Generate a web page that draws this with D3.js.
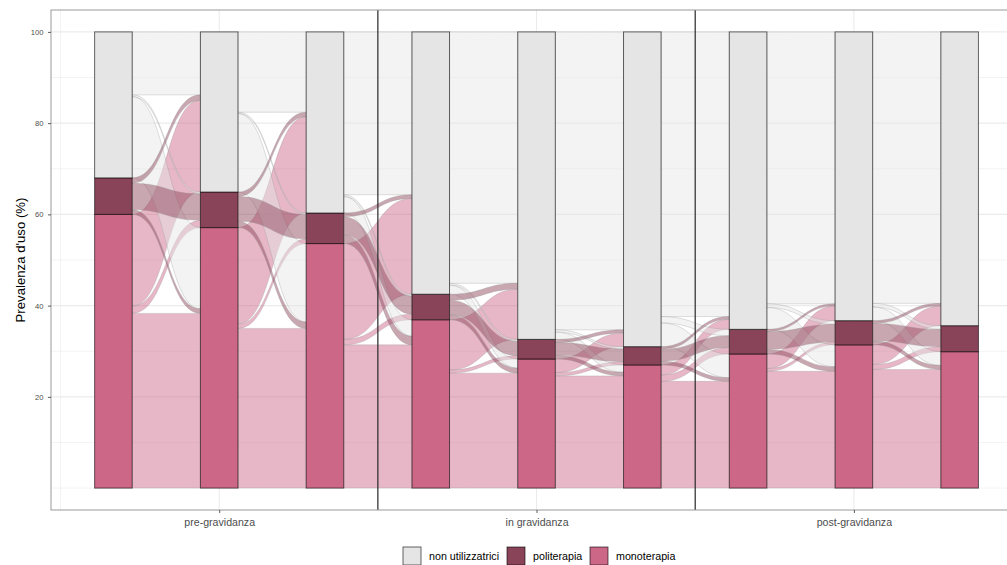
<!DOCTYPE html>
<html>
<head>
<meta charset="utf-8">
<script src="https://cdn.jsdelivr.net/npm/d3@7"></script>
<style>
  html, body { margin: 0; padding: 0; background: #ffffff; }
  svg { display: block; font-family: "Liberation Sans", Arial, Helvetica, sans-serif; }
</style>
</head>
<body>
<svg id="chart" width="1007" height="565"></svg>
<script>
// Periodi (asse x) e strati
const fasi = ["pre-gravidanza", "in gravidanza", "post-gravidanza"];
const strati = ["non utilizzatrici", "politerapia", "monoterapia"];

// Prevalenza d'uso (%) per ciascuno dei 9 momenti (3 per periodo)
const monoterapia      = [60.0, 57.1, 53.6, 36.9, 28.3, 27.0, 29.4, 31.4, 29.9];
const politerapia      = [ 8.0,  7.8,  6.7,  5.6,  4.3,  4.0,  5.4,  5.3,  5.7];
const nonUtilizzatrici = [32.0, 35.1, 39.7, 57.5, 67.4, 69.0, 65.2, 63.3, 64.4];

// Tick dell'asse y
const yTicks = [20, 40, 60, 80, 100];

// Transizioni tra momenti consecutivi (%):
// righe = stato di partenza [non, poli, mono], colonne = stato di arrivo [non, poli, mono]
const transizioni = [
  [[13.8, 0.4, 17.8], [ 1.2, 5.8, 1.0], [20.1, 1.6, 38.3]],
  [[17.6, 0.3, 17.2], [ 1.0, 5.4, 1.4], [21.1, 1.0, 35.0]],
  [[35.7, 0.4,  3.6], [ 0.8, 4.0, 1.9], [21.0, 1.2, 31.4]],
  [[55.1, 0.4,  2.0], [ 1.3, 3.2, 1.1], [11.0, 0.7, 25.2]],
  [[65.3, 0.5,  1.6], [ 0.7, 2.8, 0.8], [ 3.0, 0.7, 24.6]],
  [[62.4, 1.4,  5.2], [ 0.6, 2.6, 0.8], [ 2.2, 1.4, 23.4]],
  [[59.6, 0.8,  4.8], [ 0.5, 3.9, 1.0], [ 3.2, 0.6, 25.6]],
  [[59.5, 0.8,  3.0], [ 0.6, 3.8, 0.9], [ 4.3, 1.1, 26.0]]
];

const colori = {
  "non utilizzatrici": "#E5E5E5",
  "politerapia": "#8A4459",
  "monoterapia": "#CC6787"
};

const svg = d3.select("#chart");
const panel = { left: 51, top: 10, right: 1021, bottom: 510 };

const x = d3.scaleLinear().domain([-0.59, 8.58]).range([panel.left, panel.right]);
const y = d3.scaleLinear().domain([-4.8, 104.8]).range([panel.bottom, panel.top]);
const bw = x(0.355) - x(0);

// Tabella per lo stack (monoterapia in basso, non utilizzatrici in alto)
const tabella = monoterapia.map((m, i) => ({
  idx: i,
  "monoterapia": m,
  "politerapia": politerapia[i],
  "non utilizzatrici": nonUtilizzatrici[i]
}));
const stack = d3.stack().keys(["monoterapia", "politerapia", "non utilizzatrici"]);
const serie = stack(tabella);
// intervallo [basso, alto] di ogni strato per ogni momento
const intervallo = {};
serie.forEach(s => { intervallo[s.key] = s.map(d => [d[0], d[1]]); });

svg.append("defs").append("clipPath").attr("id", "clipPanel")
  .append("rect")
  .attr("x", panel.left).attr("y", panel.top)
  .attr("width", panel.right - panel.left).attr("height", panel.bottom - panel.top);

// Sfondo del pannello
svg.append("rect")
  .attr("x", panel.left).attr("y", panel.top)
  .attr("width", panel.right - panel.left).attr("height", panel.bottom - panel.top)
  .attr("fill", "#ffffff");

// Griglia
const grid = svg.append("g").attr("clip-path", "url(#clipPanel)");
const yMinor = [0, 10, 30, 50, 70, 90];
const xMinor = [-0.5, 2.5, 5.5, 8.5];
const xMajor = [1, 4, 7];
grid.selectAll(".ymin").data(yMinor).enter().append("line")
  .attr("x1", panel.left).attr("x2", panel.right)
  .attr("y1", d => y(d)).attr("y2", d => y(d))
  .attr("stroke", "#ebebeb").attr("stroke-width", 0.6);
grid.selectAll(".ymaj").data(yTicks).enter().append("line")
  .attr("x1", panel.left).attr("x2", panel.right)
  .attr("y1", d => y(d)).attr("y2", d => y(d))
  .attr("stroke", "#ebebeb").attr("stroke-width", 1.1);
grid.selectAll(".xmin").data(xMinor).enter().append("line")
  .attr("y1", panel.top).attr("y2", panel.bottom)
  .attr("x1", d => x(d)).attr("x2", d => x(d))
  .attr("stroke", "#ebebeb").attr("stroke-width", 0.6);
grid.selectAll(".xmaj").data(xMajor).enter().append("line")
  .attr("y1", panel.top).attr("y2", panel.bottom)
  .attr("x1", d => x(d)).attr("x2", d => x(d))
  .attr("stroke", "#ebebeb").attr("stroke-width", 1.1);

// Flussi (alluvial)
const ordine = ["non utilizzatrici", "politerapia", "monoterapia"]; // dall'alto verso il basso
const flussi = [];
transizioni.forEach((mat, k) => {
  // posizione di uscita: dall'alto dello strato di partenza
  const uscita = {};
  ordine.forEach((s, si) => {
    let top = intervallo[s][k][1];
    ordine.forEach((t, ti) => {
      const v = mat[si][ti];
      uscita[s + "|" + t] = [top - v, top];
      top -= v;
    });
  });
  // posizione di arrivo: dall'alto dello strato di arrivo
  const arrivo = {};
  ordine.forEach((t, ti) => {
    let top = intervallo[t][k + 1][1];
    ordine.forEach((s, si) => {
      const v = mat[si][ti];
      arrivo[s + "|" + t] = [top - v, top];
      top -= v;
    });
  });
  ordine.forEach((s, si) => {
    ordine.forEach((t, ti) => {
      const v = mat[si][ti];
      if (v <= 0) return;
      flussi.push({ k, da: s, a: t, v, u: uscita[s + "|" + t], r: arrivo[s + "|" + t] });
    });
  });
});

function pathFlusso(f) {
  const x0 = x(f.k) + bw / 2, x1 = x(f.k + 1) - bw / 2;
  const xm = (x0 + x1) / 2;
  const yt0 = y(f.u[1]), yb0 = y(f.u[0]);
  const yt1 = y(f.r[1]), yb1 = y(f.r[0]);
  return `M${x0},${yt0} C${xm},${yt0} ${xm},${yt1} ${x1},${yt1}` +
         ` L${x1},${yb1} C${xm},${yb1} ${xm},${yb0} ${x0},${yb0} Z`;
}

const gFlussi = svg.append("g").attr("clip-path", "url(#clipPanel)");
const ordineDisegno = ["monoterapia", "non utilizzatrici", "politerapia"];
flussi.sort((a, b) => ordineDisegno.indexOf(a.da) - ordineDisegno.indexOf(b.da));
gFlussi.selectAll("path").data(flussi).enter().append("path")
  .attr("d", pathFlusso)
  .attr("fill", d => colori[d.da])
  .attr("fill-opacity", 0.47)
  .attr("stroke", "#9a9a9a")
  .attr("stroke-opacity", 0.4)
  .attr("stroke-width", 0.8);

// Strati (barre)
const gBarre = svg.append("g");
serie.forEach(s => {
  gBarre.selectAll(null).data(s).enter().append("rect")
    .attr("x", d => x(d.data.idx) - bw / 2)
    .attr("width", bw)
    .attr("y", d => y(d[1]))
    .attr("height", d => y(d[0]) - y(d[1]))
    .attr("fill", colori[s.key])
    .attr("stroke", "rgba(0,0,0,0.6)")
    .attr("stroke-width", 1);
});

// Separatori tra i periodi
svg.append("g").selectAll("line").data([2.5, 5.5]).enter().append("line")
  .attr("x1", d => x(d)).attr("x2", d => x(d))
  .attr("y1", panel.top).attr("y2", panel.bottom)
  .attr("stroke", "#2a2a2a").attr("stroke-width", 1.2);

// Bordo del pannello
svg.append("rect")
  .attr("x", panel.left).attr("y", panel.top)
  .attr("width", panel.right - panel.left).attr("height", panel.bottom - panel.top)
  .attr("fill", "none").attr("stroke", "#999999").attr("stroke-width", 1);

// Asse y
const yAxis = svg.append("g")
  .attr("transform", `translate(${panel.left},0)`)
  .call(d3.axisLeft(y).tickValues(yTicks).tickSize(3).tickPadding(4.5));
yAxis.select(".domain").remove();
yAxis.selectAll(".tick line").attr("stroke", "#333333").attr("stroke-width", 0.8);
yAxis.selectAll(".tick text").attr("fill", "#4d4d4d").style("font-size", "7.6px")
  .style("font-family", "'Liberation Sans', Arial, sans-serif");

// Asse x
const xAxis = svg.append("g")
  .attr("transform", `translate(0,${panel.bottom})`)
  .call(d3.axisBottom(x).tickValues(xMajor).tickSize(3).tickPadding(5)
    .tickFormat(d => fasi[xMajor.indexOf(d)]));
xAxis.select(".domain").remove();
xAxis.selectAll(".tick line").attr("stroke", "#333333").attr("stroke-width", 0.8);
xAxis.selectAll(".tick text").attr("fill", "#4d4d4d").style("font-size", "10.6px")
  .style("font-family", "'Liberation Sans', Arial, sans-serif");

// Titolo asse y
svg.append("text")
  .attr("transform", `translate(24.5,${(panel.top + panel.bottom) / 2}) rotate(-90)`)
  .attr("text-anchor", "middle")
  .attr("fill", "#000000")
  .style("font-size", "13.2px")
  .text("Prevalenza d'uso (%)");

// Legenda
const legenda = svg.append("g");
const posLegenda = [403, 507, 590];
strati.forEach((s, i) => {
  const g = legenda.append("g").attr("transform", `translate(${posLegenda[i]},547)`);
  g.append("rect").attr("width", 18).attr("height", 18)
    .attr("fill", colori[s]).attr("stroke", "rgba(0,0,0,0.6)").attr("stroke-width", 1);
  g.append("text").attr("x", 26).attr("y", 9).attr("dy", "0.35em")
    .attr("fill", "#000000").style("font-size", "10.7px").text(s);
});
</script>
</body>
</html>
